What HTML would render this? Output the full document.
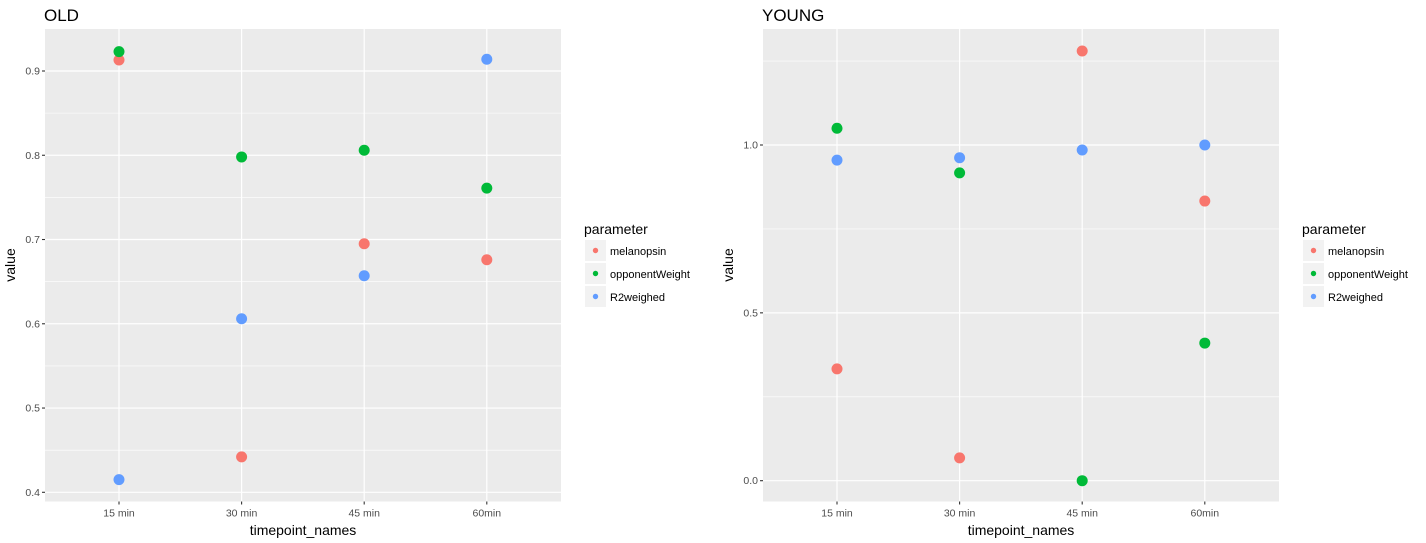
<!DOCTYPE html>
<html><head><meta charset="utf-8"><style>
body{margin:0;background:#fff;}
svg{display:block;font-family:"Liberation Sans",sans-serif;}
</style></head><body>
<svg id="c" width="1426" height="543"></svg>
<script>
const categories=["15 min","30 min","45 min","60min"];
const seriesNames=["melanopsin","opponentWeight","R2weighed"];
const colors=["#F8766D","#00BA38","#619CFF"];
const oldMel=[0.913,0.442,0.695,0.676];
const oldOpp=[0.923,0.798,0.806,0.761];
const oldR2=[0.415,0.606,0.657,0.914];
const youngMel=[0.333,0.068,1.28,0.833];
const youngOpp=[1.05,0.917,0.0,0.41];
const youngR2=[0.955,0.962,0.985,1.0];
const oldTicks=[0.4,0.5,0.6,0.7,0.8,0.9];
const oldMinor=[0.45,0.55,0.65,0.75,0.85];
const youngTicks=[0.0,0.5,1.0];
const youngMinor=[0.25,0.75,1.25];
const svg=document.getElementById('c');
const NS="http://www.w3.org/2000/svg";
function mk(tag,attrs,parent){const e=document.createElementNS(NS,tag);for(const k in attrs)e.setAttribute(k,attrs[k]);(parent||svg).appendChild(e);return e;}
function panel(cfg){
  const g=mk('g',{});
  
  
  const L=cfg.left,R=cfg.left+516,T=29,B=501.5;
  const y=v=>cfg.y0px-(v-cfg.y0)*cfg.k;
  const x=i=>L+74+i*122.6;
  const bg=mk('rect',{x:L,y:T,width:R-L,height:B-T,fill:'#EBEBEB'},g);
  
  
  cfg.minor.forEach(v=>{const l=mk('line',{x1:L,x2:R,y1:y(v),y2:y(v),stroke:'#fff','stroke-width':0.6},g);
    });
  cfg.ticks.forEach(v=>{const l=mk('line',{x1:L,x2:R,y1:y(v),y2:y(v),stroke:'#fff','stroke-width':1.2},g);
    
    mk('line',{x1:L-3,x2:L,y1:y(v),y2:y(v),stroke:'#333','stroke-width':1.1},g);
    const t=mk('text',{x:L-5,y:y(v)+3.5,'text-anchor':'end','font-size':10.5,fill:'#4D4D4D'},g);
    t.textContent=v.toFixed(1);
    });
  categories.forEach((c,i)=>{const l=mk('line',{x1:x(i),x2:x(i),y1:T,y2:B,stroke:'#fff','stroke-width':1.2},g);
    
    mk('line',{x1:x(i),x2:x(i),y1:B,y2:B+3,stroke:'#333','stroke-width':1.1},g);
    const t=mk('text',{x:x(i),y:B+15,'text-anchor':'middle','font-size':10.5,fill:'#4D4D4D'},g);
    t.textContent=c;});
  cfg.series.forEach((s,si)=>s.forEach((v,i)=>{const p=mk('circle',{cx:x(i),cy:y(v),r:5.5,fill:colors[si]},g);
    }));
  const tt=mk('text',{x:L-1,y:21,'font-size':17,fill:'#000'},g);tt.textContent=cfg.title;
  
  const xt=mk('text',{x:(L+R)/2,y:535,'text-anchor':'middle','font-size':14,fill:'#000'},g);xt.textContent='timepoint_names';
  
  const yt=mk('text',{x:0,y:0,'text-anchor':'middle','font-size':14,fill:'#000',transform:`translate(${L-30},265) rotate(-90)`},g);yt.textContent='value';
  
  const lx=R+24;
  const lt=mk('text',{x:lx-1,y:234,'font-size':14,fill:'#000'},g);lt.textContent='parameter';
  
  seriesNames.forEach((n,i)=>{const ky=240+i*23;
    const e=mk('g',{},g);
    mk('rect',{x:lx,y:ky,width:21,height:21,fill:'#F2F2F2'},e);
    mk('circle',{cx:lx+10.5,cy:ky+10.5,r:2.7,fill:colors[i]},e);
    const t=mk('text',{x:lx+25,y:ky+15,'font-size':11,fill:'#000'},e);t.textContent=n;});
}
panel({name:'old',title:'OLD',left:45,y0:0.4,y0px:492.3,k:842.6,ticks:oldTicks,minor:oldMinor,series:[oldMel,oldOpp,oldR2]});
panel({name:'young',title:'YOUNG',left:763,y0:0,y0px:480.7,k:335.7,ticks:youngTicks,minor:youngMinor,series:[youngMel,youngOpp,youngR2]});
</script>
</body></html>
